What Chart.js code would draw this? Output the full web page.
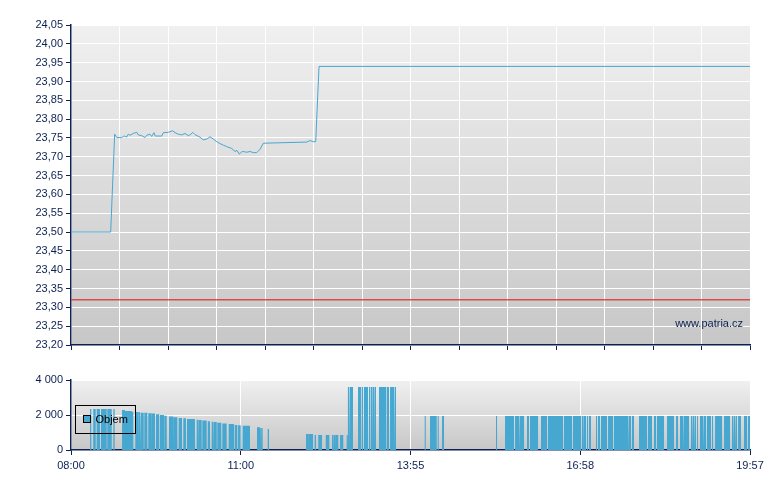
<!DOCTYPE html>
<html>
<head>
<meta charset="utf-8">
<script src="https://cdn.jsdelivr.net/npm/chart.js@4.4.1/dist/chart.umd.min.js"></script>
<style>
body{margin:0;background:#fff;}
#wrap{position:relative;width:780px;height:490px;}
#price_box{position:absolute;left:0;top:0;width:780px;height:360px;}
#volume_box{position:absolute;left:0;top:370px;width:780px;height:120px;}
</style>
</head>
<body>
<div id="wrap">
  <div id="price_box"><canvas id="price_chart"></canvas></div>
  <div id="volume_box"><canvas id="volume_chart"></canvas></div>
</div>
<script>
// times are minutes after 08:00, session ends 19:57
const session_end = 717;
const time_labels = ["08:00", "11:00", "13:55", "16:58", "19:57"];
const price_ticks = [23.20, 23.25, 23.30, 23.35, 23.40, 23.45, 23.50, 23.55, 23.60,
  23.65, 23.70, 23.75, 23.80, 23.85, 23.90, 23.95, 24.00, 24.05];
const volume_ticks = [0, 2000, 4000];
const prev_close = 23.32;

// price line
const price_times = [0, 41.9, 46.1, 48.3, 53.5, 55.2, 57.0, 58.8, 60.5, 62.3, 65.8, 69.4,
  71.1, 74.7, 78.1, 79.9, 83.4, 85.2, 87.6, 89.0, 95.8, 97.5, 102.7, 107.4, 109.8, 113.3,
  116.9, 120.4, 123.9, 126.4, 128.5, 130.9, 136.2, 139.7, 143.3, 146.8, 150.3, 153.9,
  157.3, 160.8, 164.4, 169.7, 173.2, 175.3, 177.7, 180.3, 181.9, 185.5, 189.0, 192.5,
  196.1, 199.6, 203.1, 248.9, 252.4, 255.9, 258.4, 261.9, 717];
const price_values = [23.50, 23.50, 23.760, 23.751, 23.751, 23.754, 23.755, 23.752, 23.760,
  23.757, 23.762, 23.765, 23.758, 23.756, 23.751, 23.757, 23.760, 23.754, 23.764, 23.755,
  23.755, 23.764, 23.765, 23.769, 23.764, 23.760, 23.758, 23.762, 23.756, 23.759, 23.765,
  23.759, 23.752, 23.745, 23.747, 23.753, 23.747, 23.740, 23.735, 23.731, 23.727, 23.722,
  23.714, 23.717, 23.707, 23.713, 23.714, 23.712, 23.714, 23.711, 23.711, 23.720, 23.736,
  23.739, 23.743, 23.740, 23.740, 23.94, 23.94];

// volume blocks: from / to (minutes) and amount
const vol_from = [20.1, 23.5, 27.1, 31.7, 38.3, 44.7, 53.9, 57.0, 64.1, 67.9, 71.5, 73.9,
  77.4, 81.6, 85.5, 89.8, 94.0, 98.5, 103.5, 108.3, 113.7, 118.6, 122.5, 132.7, 134.9,
  138.7, 144.4, 148.6, 151.0, 154.5, 159.8, 166.5, 172.9, 176.4, 181.3, 196.4, 199.9,
  201.4, 202.8, 207.7, 248.2, 250.6, 257.3, 261.1, 269.0, 275.6, 277.4, 279.1, 284.1,
  291.1, 292.5, 294.6, 303.1, 307.0, 309.4, 314.7, 316.8, 318.9, 321.0, 325.2, 333.7,
  336.9, 342.1, 353.8, 373.5, 379.1, 387.2, 391.8, 448.8, 458.3, 468.9, 474.1, 481.5,
  484.7, 496.3, 503.7, 520.6, 530.1, 539.6, 541.7, 544.9, 547.0, 550.2, 552.3, 554.4,
  556.5, 559.7, 567.1, 573.4, 589.2, 592.4, 595.6, 599.8, 609.3, 615.6, 618.8, 629.4,
  638.9, 643.1, 647.3, 654.7, 656.8, 658.9, 661.1, 664.2, 668.4, 671.6, 676.9, 680.1,
  689.6, 698.0, 700.1, 702.2, 704.4, 710.7, 714.9];
const vol_to = [21.4, 26.1, 30.6, 37.7, 43.0, 46.1, 57.0, 64.1, 65.8, 71.1, 72.9, 76.8,
  80.6, 85.2, 88.7, 93.2, 98.2, 101.1, 108.0, 112.3, 117.2, 121.4, 130.9, 134.4, 138.0,
  143.3, 146.8, 150.3, 153.9, 158.7, 164.4, 172.1, 175.6, 179.2, 189.0, 199.6, 201.0,
  202.4, 203.8, 209.1, 250.3, 255.6, 258.7, 265.1, 272.8, 276.7, 278.8, 282.3, 287.5,
  292.2, 293.6, 297.8, 306.2, 308.4, 313.6, 316.1, 318.2, 320.3, 322.1, 333.0, 335.8,
  341.1, 343.2, 354.8, 374.6, 386.2, 388.3, 393.9, 449.9, 467.8, 473.1, 478.4, 483.6,
  493.2, 502.7, 519.6, 529.1, 538.6, 541.0, 543.8, 546.0, 549.1, 551.2, 553.3, 555.5,
  558.6, 566.0, 572.4, 588.2, 591.4, 594.5, 596.6, 608.3, 613.5, 617.8, 626.2, 636.8,
  641.0, 646.3, 652.6, 655.8, 657.9, 660.0, 662.1, 667.4, 670.6, 675.8, 678.0, 687.5,
  695.9, 699.1, 701.2, 703.3, 707.5, 713.9, 717.0];
const vol_amount = [2350, 2350, 2350, 2350, 2350, 2350, 2290, 2230, 2190, 2170, 2170, 2130,
  2130, 2100, 2080, 2040, 2000, 1960, 1910, 1870, 1830, 1810, 1770, 1730, 1710, 1690,
  1640, 1620, 1600, 1560, 1520, 1490, 1430, 1410, 1390, 1300, 1260, 1260, 1260, 1200,
  910, 910, 860, 860, 860, 860, 860, 860, 860, 860, 3600, 3600, 3600, 3600, 3600, 3600,
  3600, 3600, 3600, 3600, 3600, 3600, 3600, 1950, 1950, 1950, 1950, 1950, 1950, 1950,
  1950, 1950, 1950, 1950, 1950, 1950, 1950, 1950, 1950, 1950, 1950, 1950, 1950, 1950,
  1950, 1950, 1950, 1950, 1950, 1950, 1950, 1950, 1950, 1950, 1950, 1950, 1950, 1950,
  1950, 1950, 1950, 1950, 1950, 1950, 1950, 1950, 1950, 1950, 1950, 1950, 1950, 1950,
  1950, 1950, 1950, 1950, 1950];

const navy = "#0c2152";
const bar_blue = "#46a7d0";
Chart.defaults.font.family = "'Liberation Sans', Arial, sans-serif";
Chart.defaults.font.size = 11;
Chart.defaults.color = navy;

// gray gradient behind the plot area
const bg_plugin = {
  id: "bg_gradient",
  beforeDraw(chart) {
    const ctx = chart.ctx, a = chart.chartArea;
    const g = ctx.createLinearGradient(0, a.top, 0, a.bottom);
    g.addColorStop(0, "#f0f0f0");
    g.addColorStop(1, "#c7c7c7");
    ctx.save();
    ctx.fillStyle = g;
    ctx.fillRect(a.left, a.top, a.right - a.left, a.bottom - a.top);
    ctx.restore();
  }
};

const watermark_plugin = {
  id: "watermark",
  afterDatasetsDraw(chart) {
    const ctx = chart.ctx, a = chart.chartArea;
    ctx.save();
    ctx.font = "11px 'Liberation Sans', Arial, sans-serif";
    ctx.fillStyle = navy;
    ctx.textAlign = "right";
    ctx.textBaseline = "alphabetic";
    ctx.fillText("www.patria.cz", a.right - 7, a.bottom - 18);
    ctx.restore();
  }
};

const legend_plugin = {
  id: "box_legend",
  afterDatasetsDraw(chart) {
    const ctx = chart.ctx, a = chart.chartArea;
    const x = a.left + 4.5, y = a.top + 25.5;
    ctx.save();
    ctx.strokeStyle = "#000";
    ctx.lineWidth = 1;
    ctx.strokeRect(x, y, 60, 28);
    ctx.fillStyle = bar_blue;
    ctx.fillRect(x + 8, y + 10, 7, 7);
    ctx.strokeRect(x + 8, y + 10, 7, 7);
    ctx.fillStyle = "#000";
    ctx.font = "11px 'Liberation Sans', Arial, sans-serif";
    ctx.textBaseline = "middle";
    ctx.fillText(chart.data.datasets[0].label, x + 20, y + 14);
    ctx.restore();
  }
};

function fmtPrice(v) {
  return v.toFixed(2).replace(".", ",");
}
function fmtVolume(v) {
  return String(v).replace(/\B(?=(\d{3})+(?!\d))/g, " ");
}

// price chart
const price_points = price_times.map((t, i) => ({x: t, y: price_values[i]}));
const grid_count = 14;

new Chart(document.getElementById("price_chart"), {
  type: "line",
  data: {
    datasets: [
      {
        label: "Předchozí závěr",
        data: [{x: 0, y: prev_close}, {x: session_end, y: prev_close}],
        borderColor: "rgba(226,40,40,0.8)",
        borderWidth: 1.5,
        pointRadius: 0
      },
      {
        label: "Cena",
        data: price_points,
        borderColor: "#4aa6d2",
        borderWidth: 1,
        pointRadius: 0,
        tension: 0
      }
    ]
  },
  options: {
    responsive: true,
    maintainAspectRatio: false,
    animation: false,
    layout: {padding: {left: 0, top: 25, right: 30, bottom: 0}},
    plugins: {legend: {display: false}, tooltip: {enabled: false}},
    scales: {
      x: {
        type: "linear",
        min: 0,
        max: session_end,
        afterBuildTicks: (s) => {
          const t = [];
          for (let i = 0; i <= grid_count; i++) t.push({value: i * session_end / grid_count});
          s.ticks = t;
        },
        afterFit: (s) => { s.height = 15; },
        ticks: {display: false},
        grid: {color: "#ffffff", lineWidth: 1, tickColor: navy, tickLength: 5},
        border: {color: navy, width: 1.5}
      },
      y: {
        min: 23.20,
        max: 24.05,
        afterBuildTicks: (s) => { s.ticks = price_ticks.map(v => ({value: v})); },
        afterFit: (s) => { s.width = 71; },
        ticks: {callback: (v) => fmtPrice(v), padding: 3, color: navy, font: {size: 11}},
        grid: {color: "#ffffff", lineWidth: 1, tickColor: navy, tickLength: 5},
        border: {color: navy, width: 1.5}
      }
    }
  },
  plugins: [bg_plugin, watermark_plugin]
});

// volume chart, each block filled down to zero
const volume_points = [];
vol_from.forEach((f, i) => {
  volume_points.push({x: f, y: 0}, {x: f, y: vol_amount[i]},
    {x: vol_to[i], y: vol_amount[i]}, {x: vol_to[i], y: 0});
});

new Chart(document.getElementById("volume_chart"), {
  type: "line",
  data: {
    datasets: [{
      label: "Objem",
      data: volume_points,
      fill: "origin",
      backgroundColor: bar_blue,
      borderColor: "transparent",
      borderWidth: 0,
      pointRadius: 0,
      tension: 0
    }]
  },
  options: {
    responsive: true,
    maintainAspectRatio: false,
    animation: false,
    layout: {padding: {left: 0, top: 10, right: 30, bottom: 0}},
    plugins: {legend: {display: false}, tooltip: {enabled: false}},
    scales: {
      x: {
        type: "linear",
        min: 0,
        max: session_end,
        afterBuildTicks: (s) => {
          s.ticks = time_labels.map((l, i) => ({value: i * session_end / (time_labels.length - 1)}));
        },
        afterFit: (s) => { s.height = 40; },
        ticks: {
          callback: (v, i) => time_labels[i],
          maxRotation: 0,
          autoSkip: false,
          padding: 4,
          color: navy
        },
        grid: {color: "#ffffff", lineWidth: 1, tickColor: navy, tickLength: 5},
        border: {color: navy, width: 1.5}
      },
      y: {
        min: 0,
        max: 4000,
        afterBuildTicks: (s) => { s.ticks = volume_ticks.map(v => ({value: v})); },
        afterFit: (s) => { s.width = 71; },
        ticks: {callback: (v) => fmtVolume(v), padding: 3, color: navy},
        grid: {color: "#ffffff", lineWidth: 1, tickColor: navy, tickLength: 5},
        border: {color: navy, width: 1.5}
      }
    }
  },
  plugins: [bg_plugin, legend_plugin]
});
</script>
</body>
</html>
